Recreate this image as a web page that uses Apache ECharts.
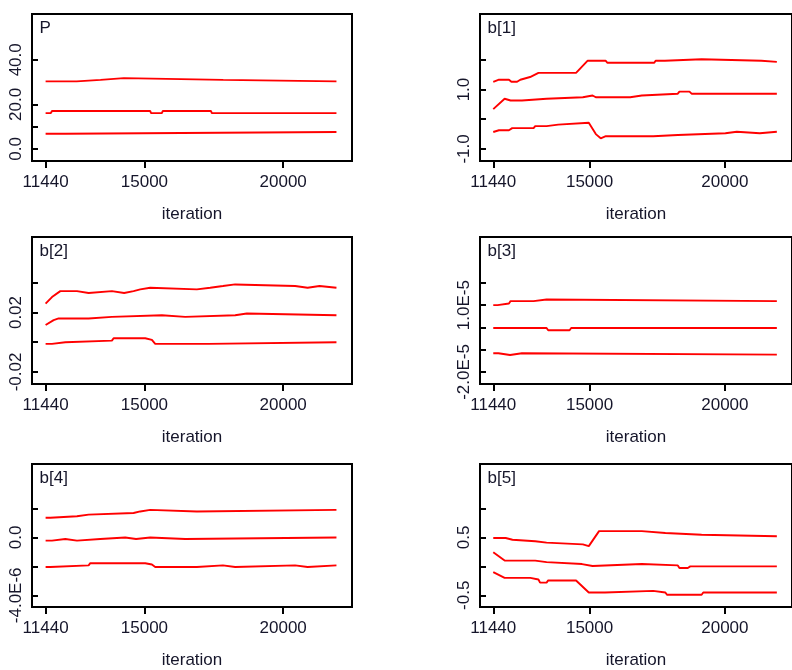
<!DOCTYPE html>
<html>
<head>
<meta charset="utf-8">
<script src="https://cdn.jsdelivr.net/npm/echarts@6/dist/echarts.min.js"></script>
<style>
html,body{margin:0;padding:0;background:#fff;}
#chart{width:792px;height:670px;}
</style>
</head>
<body>
<div id="chart"></div>
<script>
// ---------- data ----------
const panelNames = ['P', 'b[1]', 'b[2]', 'b[3]', 'b[4]', 'b[5]'];
const xTickValues = [11440, 15000, 20000];

// y ticks / labels per panel
const pTicks = [0, 10, 20, 40];
const pLabelValues = [0, 20, 40];
const pLabelTexts = ['0.0', '20.0', '40.0'];
const b1Ticks = [-1, 0, 1, 2];
const b1LabelValues = [-1, 1];
const b1LabelTexts = ['-1.0', '1.0'];
const b2Ticks = [-0.02, 0, 0.02, 0.04];
const b2LabelValues = [-0.02, 0.02];
const b2LabelTexts = ['-0.02', '0.02'];
const b3Ticks = [-2e-5, -1e-5, 0, 1e-5, 2e-5];
const b3LabelValues = [-2e-5, 1e-5];
const b3LabelTexts = ['-2.0E-5', '1.0E-5'];
const b4Ticks = [-4e-6, -2e-6, 0, 2e-6];
const b4LabelValues = [-4e-6, 0];
const b4LabelTexts = ['-4.0E-6', '0.0'];
const b5Ticks = [-0.5, 0, 0.5, 1.0];
const b5LabelValues = [-0.5, 0.5];
const b5LabelTexts = ['-0.5', '0.5'];

// running quantiles: [iteration, value]
const pUpper = [[11440,30.3],[12560,30.3],[12600,31.0],[13420,31.0],[13460,31.8],[14260,31.8],[14300,31.0],[17840,31.0],[17880,30.3],[21920,30.3]];
const pMedian = [[11440,16.1],[11630,16.1],[11670,17.0],[15210,17.0],[15240,16.1],[15630,16.1],[15660,17.0],[17400,17.0],[17430,16.1],[21920,16.1]];
const pLower = [[11440,6.8],[12150,6.8],[12180,7.6],[21920,7.6]];

const b1Upper = [[11440,1.26],[11650,1.33],[12020,1.33],[12110,1.26],[12320,1.26],[12440,1.33],[12800,1.42],[13110,1.56],[14500,1.56],[14930,1.97],[15590,1.97],[15660,1.90],[17390,1.90],[17440,1.97],[17780,1.97],[17840,2.02],[19140,2.02],[19200,1.97],[21350,1.97],[21410,1.93],[21920,1.93]];
const b1Median = [[11440,0.34],[11860,0.69],[12080,0.63],[12500,0.63],[12560,0.69],[13410,0.69],[13470,0.74],[14750,0.74],[14810,0.80],[15110,0.80],[15230,0.74],[16500,0.74],[16560,0.80],[16930,0.80],[16990,0.86],[18260,0.86],[18320,0.93],[18690,0.93],[18770,0.86],[21920,0.86]];
const b1Lower = [[11440,-0.43],[11650,-0.37],[12020,-0.37],[12140,-0.30],[12930,-0.30],[12990,-0.23],[13410,-0.23],[13470,-0.18],[13840,-0.18],[13900,-0.12],[14970,-0.12],[15230,-0.50],[15410,-0.64],[15600,-0.57],[17350,-0.57],[17410,-0.53],[18260,-0.53],[18320,-0.47],[20020,-0.47],[20080,-0.42],[20440,-0.42],[20500,-0.47],[21290,-0.47],[21350,-0.42],[21920,-0.42]];

const b2Upper = [[11440,0.026],[11670,0.0304],[11970,0.0344],[12570,0.0344],[12630,0.0331],[12990,0.0331],[13050,0.0344],[13830,0.0344],[13890,0.0331],[14270,0.0331],[14340,0.0344],[14610,0.0344],[14670,0.0356],[14850,0.0356],[14910,0.0367],[15210,0.0367],[15270,0.0356],[16890,0.0356],[16950,0.0367],[17370,0.0367],[17430,0.0378],[17830,0.0378],[17870,0.0389],[18270,0.0389],[18310,0.0378],[20430,0.0378],[20490,0.0367],[20880,0.0367],[20950,0.0378],[21310,0.0378],[21360,0.0367],[21920,0.0367]];
const b2Median = [[11440,0.0116],[11730,0.0149],[11910,0.016],[12990,0.016],[13050,0.0171],[13830,0.0171],[13890,0.0182],[15630,0.0182],[15690,0.0171],[16470,0.0171],[16530,0.0182],[18270,0.0182],[18330,0.0193],[18690,0.0193],[18750,0.0182],[21920,0.0182]];
const b2Lower = [[11440,-0.0011],[11670,-0.0011],[11730,0],[12150,0],[12210,0.0011],[13830,0.0011],[13890,0.0027],[15030,0.0027],[15090,0.0016],[15270,0.0016],[15390,-0.0011],[17310,-0.0011],[17370,0],[21920,0]];

const b3Upper = [[11440,1.0e-5],[11600,1.0e-5],[11660,1.07e-5],[12020,1.07e-5],[12080,1.18e-5],[12930,1.18e-5],[12990,1.25e-5],[13410,1.25e-5],[13470,1.18e-5],[21920,1.18e-5]];
const b3Median = [[11440,-0.03e-5],[13410,-0.03e-5],[13470,-0.13e-5],[14260,-0.13e-5],[14320,-0.03e-5],[21920,-0.03e-5]];
const b3Lower = [[11440,-1.16e-5],[11630,-1.16e-5],[11690,-1.24e-5],[12060,-1.24e-5],[12120,-1.16e-5],[12500,-1.16e-5],[12570,-1.22e-5],[21920,-1.22e-5]];

const b4Upper = [[11440,1.36e-6],[11610,1.36e-6],[11670,1.47e-6],[12570,1.47e-6],[12630,1.58e-6],[12990,1.58e-6],[13050,1.69e-6],[14610,1.69e-6],[14670,1.80e-6],[14850,1.80e-6],[14910,1.91e-6],[15210,1.91e-6],[15270,1.80e-6],[16890,1.80e-6],[16950,1.91e-6],[21920,1.91e-6]];
const b4Median = [[11440,-0.22e-6],[11670,-0.22e-6],[11730,-0.11e-6],[12150,-0.11e-6],[12210,-0.22e-6],[12570,-0.22e-6],[12630,-0.11e-6],[13410,-0.11e-6],[13470,0],[14310,0],[14370,-0.11e-6],[14700,-0.11e-6],[14750,0],[15210,0],[15270,-0.11e-6],[16470,-0.11e-6],[16530,0],[21920,0]];
const b4Lower = [[11440,-2.04e-6],[11610,-2.04e-6],[11670,-1.93e-6],[12990,-1.93e-6],[13050,-1.78e-6],[15030,-1.78e-6],[15090,-1.87e-6],[15270,-1.87e-6],[15390,-2.04e-6],[16890,-2.04e-6],[16950,-1.93e-6],[17830,-1.93e-6],[17870,-2.04e-6],[18270,-2.04e-6],[18310,-1.93e-6],[20430,-1.93e-6],[20490,-2.04e-6],[20880,-2.04e-6],[20950,-1.93e-6],[21920,-1.93e-6]];

const b5Upper = [[11440,0.49],[11900,0.49],[11960,0.46],[12150,0.46],[12200,0.435],[12990,0.435],[13050,0.41],[13410,0.41],[13470,0.38],[14750,0.38],[14810,0.35],[14970,0.35],[15350,0.61],[16930,0.61],[16990,0.576],[17800,0.576],[17860,0.548],[19140,0.548],[19200,0.52],[21920,0.52]];
const b5Median = [[11440,0.243],[11860,0.10],[12990,0.10],[13050,0.073],[13410,0.073],[13470,0.04],[14720,0.04],[14780,0.006],[15110,0.006],[15170,0.04],[16930,0.04],[16990,0.017],[18260,0.017],[18320,-0.028],[18630,-0.028],[18720,0],[21920,0]];
const b5Lower = [[11440,-0.10],[11860,-0.198],[12810,-0.198],[12870,-0.226],[13110,-0.226],[13170,-0.28],[13410,-0.28],[13470,-0.243],[14500,-0.243],[14970,-0.452],[15570,-0.452],[15630,-0.424],[17350,-0.424],[17410,-0.452],[17800,-0.452],[17860,-0.49],[19140,-0.49],[19200,-0.452],[21920,-0.452]];

// ---------- assembly ----------
const panels = [
  {ticks: pTicks,  lv: pLabelValues,  lt: pLabelTexts,  lines: [pUpper, pMedian, pLower]},
  {ticks: b1Ticks, lv: b1LabelValues, lt: b1LabelTexts, lines: [b1Upper, b1Median, b1Lower]},
  {ticks: b2Ticks, lv: b2LabelValues, lt: b2LabelTexts, lines: [b2Upper, b2Median, b2Lower]},
  {ticks: b3Ticks, lv: b3LabelValues, lt: b3LabelTexts, lines: [b3Upper, b3Median, b3Lower]},
  {ticks: b4Ticks, lv: b4LabelValues, lt: b4LabelTexts, lines: [b4Upper, b4Median, b4Lower]},
  {ticks: b5Ticks, lv: b5LabelValues, lt: b5LabelTexts, lines: [b5Upper, b5Median, b5Lower]}
];

const FONT = '"Liberation Sans", Arial, sans-serif';
const TXT = '#15152a';
const colLeft = [32, 480];
const rowTop = [14, 237, 464];
const W = 320, H = 147;

const grids = [], xAxes = [], yAxes = [], series = [], titles = [];
panels.forEach((p, i) => {
  const r = Math.floor(i / 2), c = i % 2;
  grids.push({left: colLeft[c], top: rowTop[r], width: W, height: H, show: true,
    borderColor: '#000', borderWidth: 2, backgroundColor: 'transparent', containLabel: false});
  xAxes.push({type: 'value', gridIndex: i, min: 10950, max: 22480, position: 'bottom',
    axisLine: {show: false, onZero: false}, splitLine: {show: false},
    axisTick: {show: true, length: 7, customValues: xTickValues, lineStyle: {color: '#000', width: 2}},
    axisLabel: {customValues: xTickValues, margin: 13, fontSize: 17, color: TXT, fontFamily: FONT,
      formatter: v => String(v)},
    name: 'iteration', nameLocation: 'middle', nameGap: 45,
    nameTextStyle: {fontSize: 17, color: TXT, fontFamily: FONT}});
  const lo = p.ticks[0], hi = p.ticks[p.ticks.length - 1], span = hi - lo;
  yAxes.push({type: 'value', gridIndex: i, min: lo - span * 12 / 89, max: hi + span * 45.7 / 89, position: 'left',
    axisLine: {show: false, onZero: false}, splitLine: {show: false},
    axisTick: {show: true, inside: true, length: 6, customValues: p.ticks, lineStyle: {color: '#000', width: 2}},
    axisLabel: {customValues: p.lv, rotate: 90, margin: 7, fontSize: 17, color: TXT, fontFamily: FONT,
      formatter: v => {
        let best = 0, bd = Infinity;
        p.lv.forEach((lv, k) => { const d = Math.abs(lv - v); if (d < bd) { bd = d; best = k; } });
        return p.lt[best];
      }}});
  p.lines.forEach(d => series.push({type: 'line', xAxisIndex: i, yAxisIndex: i, data: d,
    showSymbol: false, symbol: 'none', lineStyle: {color: '#ff0000', width: 1.9}, silent: true}));
  titles.push({text: panelNames[i], left: colLeft[c] + 7.5, top: rowTop[r] + 6, padding: 0,
    textStyle: {fontSize: 17, fontWeight: 'normal', color: TXT, fontFamily: FONT}});
});

const chart = echarts.init(document.getElementById('chart'), null, {renderer: 'canvas'});
chart.setOption({animation: false, backgroundColor: '#fff', title: titles,
  grid: grids, xAxis: xAxes, yAxis: yAxes, series: series});
</script>
</body>
</html>
